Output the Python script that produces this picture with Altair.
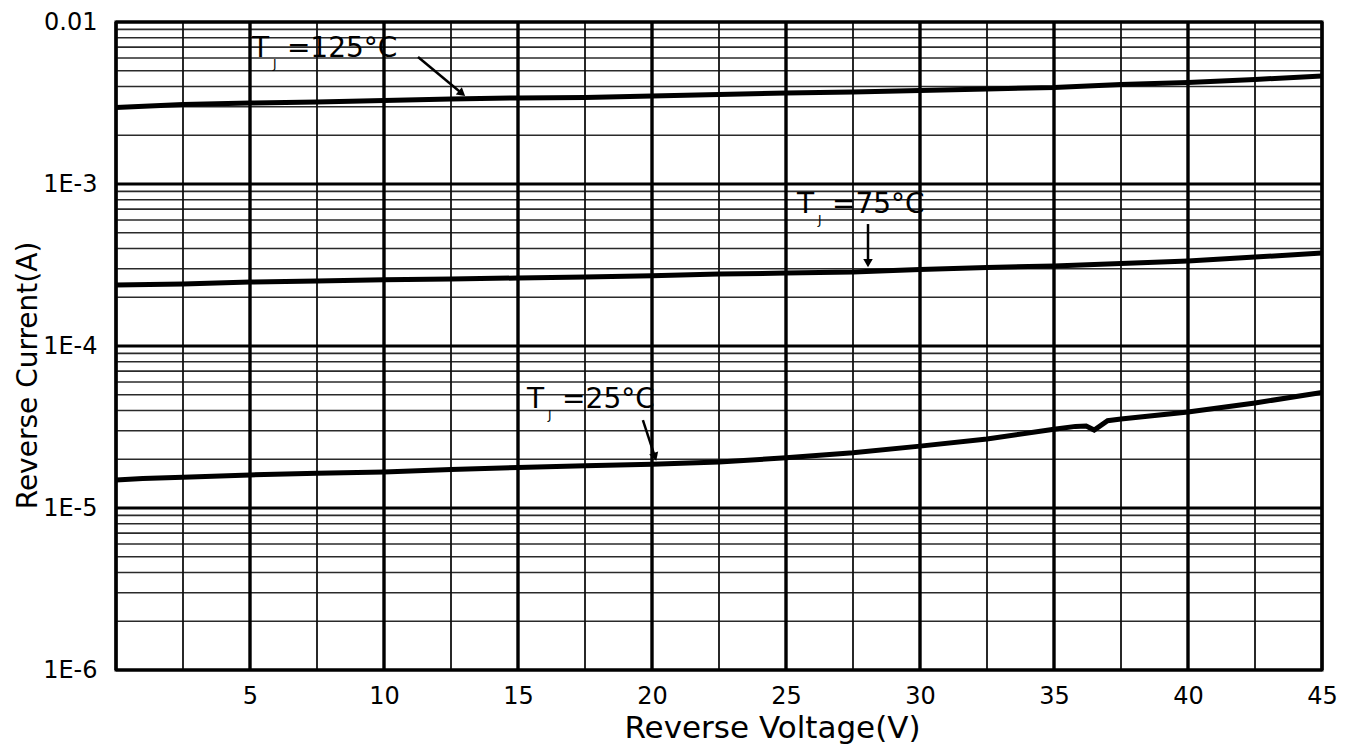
import json
import altair as alt
import pandas as pd

# ---------------- data ----------------
voltage = [0, 2.5, 5, 7.5, 10, 12.5, 15, 17.5, 20, 22.5, 25, 27.5, 30, 32.5, 35, 37.5, 40, 42.5, 45]
current_125 = [2.97e-3, 3.10e-3, 3.16e-3, 3.21e-3, 3.28e-3, 3.35e-3, 3.40e-3, 3.42e-3, 3.49e-3, 3.57e-3,
               3.64e-3, 3.70e-3, 3.78e-3, 3.86e-3, 3.94e-3, 4.11e-3, 4.23e-3, 4.42e-3, 4.64e-3]
current_75 = [2.38e-4, 2.41e-4, 2.48e-4, 2.52e-4, 2.56e-4, 2.59e-4, 2.63e-4, 2.67e-4, 2.71e-4, 2.78e-4,
              2.82e-4, 2.86e-4, 2.97e-4, 3.05e-4, 3.12e-4, 3.23e-4, 3.35e-4, 3.54e-4, 3.75e-4]
voltage_25 = [0, 1, 2.5, 5, 7.5, 10, 12.5, 15, 17.5, 20, 22.5, 25, 27.5, 30, 32.5, 35, 35.8, 36.2,
              36.5, 37, 37.5, 40, 42.5, 45]
current_25 = [1.49e-5, 1.52e-5, 1.55e-5, 1.60e-5, 1.64e-5, 1.67e-5, 1.73e-5, 1.78e-5, 1.82e-5, 1.86e-5,
              1.92e-5, 2.04e-5, 2.19e-5, 2.41e-5, 2.67e-5, 3.06e-5, 3.19e-5, 3.21e-5, 3.03e-5, 3.46e-5,
              3.54e-5, 3.91e-5, 4.45e-5, 5.16e-5]

x_tick_values = [5, 10, 15, 20, 25, 30, 35, 40, 45]
x_major = [0, 5, 10, 15, 20, 25, 30, 35, 40, 45]
x_minor = [2.5, 7.5, 12.5, 17.5, 22.5, 27.5, 32.5, 37.5, 42.5]
y_decades = [1e-6, 1e-5, 1e-4, 1e-3, 1e-2]
y_tick_labels = ["1E-6", "1E-5", "1E-4", "1E-3", "0.01"]
y_minor = [m * 10.0 ** e for e in range(-6, -2) for m in range(2, 10)]

# annotation labels (anchor of the "T", in data units)
label_v = [5.07, 25.41, 15.34]
label_i = [6.08e-3, 6.62e-4, 4.14e-5]
label_rest = ["=125\u00b0C", "=75\u00b0C", "=25\u00b0C"]

# arrows (start -> head, in data units)
arrow_v1 = [11.27, 28.06, 19.66]
arrow_i1 = [6.08e-3, 5.66e-4, 3.49e-5]
arrow_v2 = [12.91, 28.06, 20.11]
arrow_i2 = [3.62e-3, 3.25e-4, 2.07e-5]

# ---------------- chart ----------------
FONT = "DejaVu Sans"
INK = "#000000"

series = pd.concat([
    pd.DataFrame({"V": voltage, "I": current_125, "T": "125"}),
    pd.DataFrame({"V": voltage, "I": current_75, "T": "75"}),
    pd.DataFrame({"V": voltage_25, "I": current_25, "T": "25"}),
])

xscale = alt.Scale(domain=[0, 45], nice=False, zero=False)
yscale = alt.Scale(type="log", domain=[1e-6, 1e-2], nice=False)

label_expr = f"{json.dumps(y_tick_labels)}[indexof({json.dumps(y_decades)}, datum.value)]"

xaxis = alt.Axis(values=x_tick_values, grid=False, domain=False, ticks=False, tickSize=0,
                 labelFont=FONT, labelFontSize=24, labelColor=INK, labelPadding=14,
                 labelFlush=False, labelOverlap=False, labelBaseline="top",
                 title="Reverse Voltage(V)", titleFont=FONT, titleFontSize=31,
                 titleFontWeight="normal", titleColor=INK, titleX=656, titleY=67,
                 titleBaseline="alphabetic", titleAlign="center")
yaxis = alt.Axis(values=y_decades, labelExpr=label_expr, grid=False, domain=False, ticks=False,
                 tickSize=0, labelFont=FONT, labelFontSize=24, labelColor=INK, labelPadding=19,
                 labelBaseline="middle", labelAlign="right", labelOverlap=False, labelFlush=False,
                 title="Reverse Current(A)", titleFont=FONT, titleFontSize=28,
                 titleFontWeight="normal", titleColor=INK, titleX=-80, titleY=353,
                 titleAngle=270, titleBaseline="alphabetic", titleAlign="center")


def X(field):
    return alt.X(field, scale=xscale, axis=xaxis)


def Y(field):
    return alt.Y(field, scale=yscale, axis=yaxis)


def vrules(vals, width, color):
    return alt.Chart(pd.DataFrame({"x": vals})).mark_rule(color=color, strokeWidth=width).encode(
        x=X("x:Q"))


def hrules(vals, width, color):
    return alt.Chart(pd.DataFrame({"y": vals})).mark_rule(color=color, strokeWidth=width).encode(
        y=Y("y:Q"))


lines = alt.Chart(series).mark_line(color=INK, strokeWidth=5, clip=True).encode(
    x=X("V:Q"),
    y=Y("I:Q"),
    detail="T:N",
)

labels = pd.DataFrame({"v": label_v, "i": label_i, "rest": label_rest, "t": "T", "j": "J"})
lab_base = alt.Chart(labels).encode(x=X("v:Q"), y=Y("i:Q"))
lab_t = lab_base.mark_text(align="left", baseline="alphabetic", font=FONT, fontSize=28,
                           color=INK).encode(text="t:N")
lab_j = lab_base.mark_text(align="left", baseline="alphabetic", font=FONT, fontSize=12,
                           color=INK, dx=21, dy=11).encode(text="j:N")
lab_r = lab_base.mark_text(align="left", baseline="alphabetic", font=FONT, fontSize=28,
                           color=INK, dx=35).encode(text="rest:N")

arrows = pd.DataFrame({"v1": arrow_v1, "i1": arrow_i1, "v2": arrow_v2, "i2": arrow_i2})
arrow_lines = alt.Chart(arrows).mark_rule(color=INK, strokeWidth=2.5).encode(
    x=X("v1:Q"),
    y=Y("i1:Q"),
    x2="v2:Q",
    y2="i2:Q",
)
head_styles = [("triangle-right", 39.8), ("triangle-down", 0), ("triangle-right", 71.6)]
heads = []
for k, (shape, ang) in enumerate(head_styles):
    heads.append(
        alt.Chart(arrows.iloc[[k]]).mark_point(shape=shape, angle=ang, filled=True, size=90,
                                               color=INK, opacity=1).encode(
            x=X("v2:Q"),
            y=Y("i2:Q"),
        )
    )

chart = alt.layer(
    hrules(y_minor, 1.6, "#2a2a2a"),
    vrules(x_minor, 1.8, "#111111"),
    hrules(y_decades, 3.2, INK),
    vrules(x_major, 3.4, INK),
    lines,
    arrow_lines,
    *heads,
    lab_t, lab_j, lab_r,
).properties(
    width=1206,
    height=648,
    autosize=alt.AutoSizeParams(type="none"),
    padding={"left": 108, "top": 14, "right": 22, "bottom": 75},
    background="white",
).configure_view(stroke=INK, strokeWidth=3)

chart.save("out.html", embed_options={"renderer": "svg", "actions": False})
